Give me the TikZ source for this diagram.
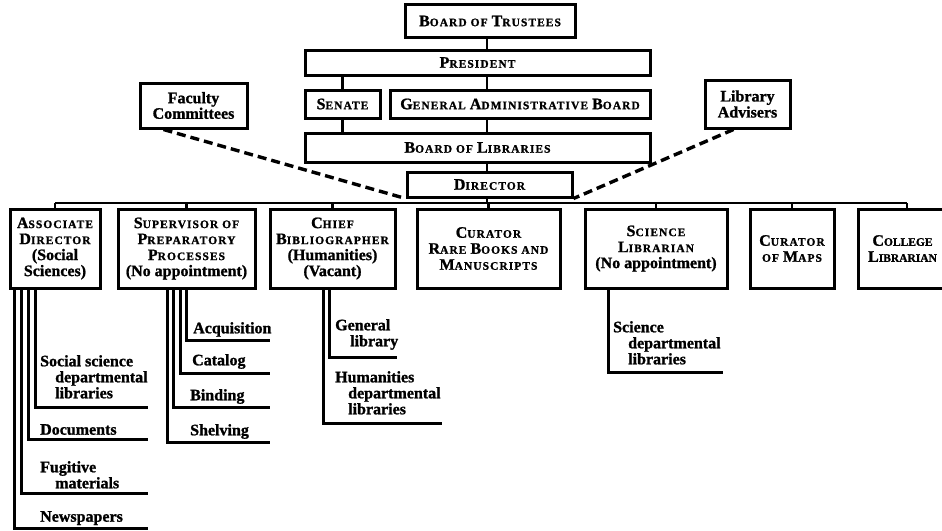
\documentclass[tikz,border=0pt]{standalone}
\usepackage{fontspec}
\setmainfont{Liberation Serif}[BoldFeatures={FakeBold=1.2}]
\usetikzlibrary{calc}
\newcommand\smc[1]{{\fontsize{11.5}{16}\selectfont\addfontfeature{LetterSpace=9}#1}}
\newcommand\smcn[1]{{\fontsize{11.5}{16}\selectfont#1}}
\begin{document}
\begin{tikzpicture}[x=1pt,y=-1pt,
  box/.style={draw,line width=3pt,inner sep=0pt,align=center,font=\fontsize{16}{16}\selectfont\bfseries},
  low/.style={box,minimum height=79pt},
  link/.style={line width=2.6pt},
  sub/.style={line width=3pt},
  dash line/.style={line width=3.4pt,dash pattern=on 9pt off 5pt},
  lab/.style={anchor=north west,inner sep=0pt,align=left,font=\fontsize{16}{16}\selectfont\bfseries}]
\useasboundingbox (0,0) rectangle (942,530);
\clip (0,0) rectangle (942,530);

% upper hierarchy
\node[box,minimum width=170pt,minimum height=33pt] (trustees) at (490,21) {B\smc{OARD OF} T\smc{RUSTEES}};
\node[box,minimum width=345pt,minimum height=25pt] (president) at (477.5,62.5) {P\smc{RESIDENT}};
\node[box,minimum width=75pt,minimum height=28pt] (senate) at (342.5,104) {S\smc{ENATE}};
\node[box,minimum width=260pt,minimum height=28pt] (gab) at (520,104) {G\smc{ENERAL} A\smc{DMINISTRATIVE} B\smc{OARD}};
\node[box,minimum width=345pt,minimum height=29pt] (bol) at (477.5,147.5) {B\smc{OARD OF} L\smc{IBRARIES}};
\node[box,minimum width=165pt,minimum height=25pt] (director) at (489.5,184.5) {D\smc{IRECTOR}};
\node[box,minimum width=107pt,minimum height=45pt,font=\fontsize{16}{14.5}\selectfont\bfseries] (fac) at (193.5,105.5) {Faculty\\Committees};
\node[box,minimum width=85pt,minimum height=48pt,font=\fontsize{16}{16}\selectfont\bfseries] (adv) at (747.5,104) {Library\\Advisers};

\coordinate (spine) at (487,0);
\draw[link] (trustees.south -| spine) -- (president.north -| spine);
\draw[link] (president.south -| spine) -- (gab.north -| spine);
\draw[link] (gab.south -| spine) -- (bol.north -| spine);
\draw[link] (bol.south -| spine) -- (director.north -| spine);
\draw[link] (senate.north) -- (senate.north |- president.south);
\draw[link] (senate.south) -- (senate.south |- bol.north);

\draw[dash line] ($(fac.south west)+(25,0)$) -- (director.south west);
\draw[dash line] ($(adv.south west)+(30,0)$) -- (director.south east);

% lower boxes
\node[low,minimum width=90pt] (ad) at (55,248.5) {A\smc{SSOCIATE}\\D\smc{IRECTOR}\\(Social\\Sciences)};
\node[low,minimum width=137pt] (sup) at (186.5,248.5) {S\smc{UPERVISOR OF}\\P\smc{REPARATORY}\\P\smc{ROCESSES}\\(No appointment)};
\node[low,minimum width=125pt] (cb) at (332.5,248.5) {C\smc{HIEF}\\B\smc{IBLIOGRAPHER}\\(Humanities)\\(Vacant)};
\node[low,minimum width=143pt] (crb) at (488.5,248.5) {C\smc{URATOR}\\R\smc{ARE} B\smc{OOKS AND}\\M\smc{ANUSCRIPTS}};
\node[low,minimum width=142pt] (sl) at (656,248.5) {S\smc{CIENCE}\\L\smc{IBRARIAN}\\(No appointment)};
\node[low,minimum width=84pt] (com) at (792,248.5) {C\smc{URATOR}\\\smc{OF} M\smc{APS}};
\node[low,minimum width=89pt] (col) at (902.5,248.5) {C\smcn{OLLEGE}\\L\smcn{IBRARIAN}};

% bus
\coordinate (busL) at (55,203);
\coordinate (busR) at (907,203);
\draw[link] (busL) -- (busR);
\draw[link] (director.south -| spine) -- (spine |- busL);
\foreach \b in {ad,sup,cb,crb,sl,com} \draw[link] (\b.north) -- (\b.north |- busL);
\draw[link] (busR) -- (busR |- col.north);

% sub-unit labels
\node[lab] (soc) at (40,355) {Social science\\\hspace*{15pt}departmental\\\hspace*{15pt}libraries};
\node[lab] (doc) at (40,424) {Documents};
\node[lab] (fug) at (40,461) {Fugitive\\\hspace*{15pt}materials};
\node[lab] (news) at (40,511) {Newspapers};
\node[lab] (acq) at (193,322) {Acquisition};
\node[lab] (cat) at (192,354) {Catalog};
\node[lab] (bin) at (190,389) {Binding};
\node[lab] (she) at (190,424) {Shelving};
\node[lab] (gen) at (335,319) {General\\\hspace*{15pt}library};
\node[lab] (hum) at (335,371) {Humanities\\\hspace*{13pt}departmental\\\hspace*{13pt}libraries};
\node[lab] (sci) at (613,321) {Science\\\hspace*{15pt}departmental\\\hspace*{15pt}libraries};

% sub-unit lines
\coordinate (socC) at (35,407);  \coordinate (socE) at (148,407);
\coordinate (docC) at (28,439);  \coordinate (docE) at (148,439);
\coordinate (fugC) at (21,493);  \coordinate (fugE) at (148,493);
\coordinate (newsC) at (14,528); \coordinate (newsE) at (148,528);
\coordinate (acqC) at (186,340); \coordinate (acqE) at (270,340);
\coordinate (catC) at (180,373); \coordinate (catE) at (270,373);
\coordinate (binC) at (173,407); \coordinate (binE) at (270,407);
\coordinate (sheC) at (167,442); \coordinate (sheE) at (270,442);
\coordinate (genC) at (329,357); \coordinate (genE) at (397,357);
\coordinate (humC) at (323,423); \coordinate (humE) at (442,423);
\coordinate (sciC) at (608,372); \coordinate (sciE) at (723,372);
\foreach \c in {soc,doc,fug,news} \draw[sub] (ad.south -| \c C) -- (\c C) -- (\c E);
\foreach \c in {acq,cat,bin,she} \draw[sub] (sup.south -| \c C) -- (\c C) -- (\c E);
\foreach \c in {gen,hum} \draw[sub] (cb.south -| \c C) -- (\c C) -- (\c E);
\draw[sub] (sl.south -| sciC) -- (sciC) -- (sciE);
\end{tikzpicture}
\end{document}
